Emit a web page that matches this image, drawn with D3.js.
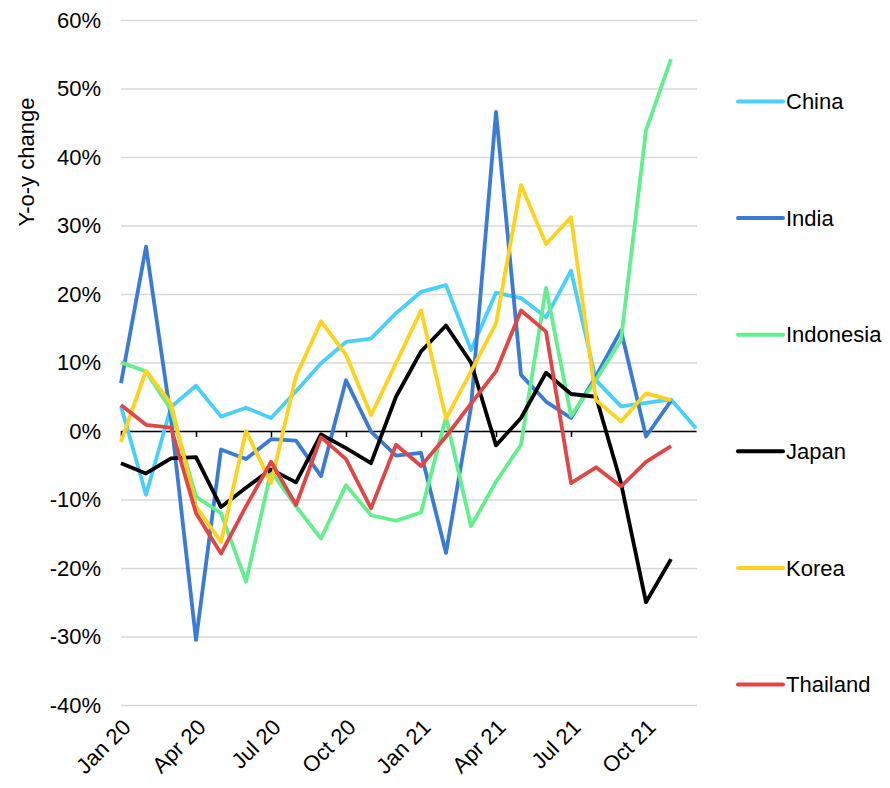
<!DOCTYPE html>
<html>
<head>
<meta charset="utf-8">
<script src="https://cdn.jsdelivr.net/npm/d3@7"></script>
<style>
  body { margin: 0; background: #fff; }
  text { font-family: "Liberation Sans", Arial, sans-serif; fill: #000; }
</style>
</head>
<body>
<svg id="chart" width="890" height="788"></svg>
<script>
// months Jan 20 .. Dec 21
var months = ["Jan 20","Feb 20","Mar 20","Apr 20","May 20","Jun 20","Jul 20","Aug 20","Sep 20","Oct 20","Nov 20","Dec 20",
              "Jan 21","Feb 21","Mar 21","Apr 21","May 21","Jun 21","Jul 21","Aug 21","Sep 21","Oct 21","Nov 21","Dec 21"];
var tickMonths = ["Jan 20","Apr 20","Jul 20","Oct 20","Jan 21","Apr 21","Jul 21","Oct 21"];
var yTicks = [-40,-30,-20,-10,0,10,20,30,40,50,60];

// y-o-y change, %
var china     = [3.6,-9.3,3.5,6.6,2.1,3.4,1.9,5.8,9.9,13.0,13.5,17.2,20.3,21.3,11.8,20.2,19.4,16.6,23.4,7.4,3.6,4.1,4.6,0.4];
var india     = [7.0,26.9,1.8,-30.5,-2.7,-4.1,-1.2,-1.4,-6.6,7.4,-0.1,-3.6,-3.2,-17.8,3.5,46.6,8.2,4.3,1.9,8.0,14.7,-0.8,4.4,null];
var indonesia = [10.0,8.7,3.1,-9.6,-12.0,-22.0,-5.9,-11.0,-15.7,-7.9,-12.3,-13.1,-11.9,2.0,-13.9,-7.4,-2.0,20.9,2.2,7.5,13.3,43.9,54.3,null];
var japan     = [-4.7,-6.2,-4.0,-3.8,-11.1,-8.3,-5.6,-7.5,-0.5,-2.5,-4.7,5.0,11.6,15.4,10.0,-2.1,1.9,8.5,5.4,5.0,-7.6,-25.0,-18.7,null];
var korea     = [-1.6,8.8,4.0,-11.0,-16.2,0.0,-7.6,8.0,16.0,11.1,2.3,9.9,17.6,1.8,8.7,15.7,35.9,27.3,31.2,4.5,1.4,5.5,4.5,null];
var thailand  = [3.8,0.9,0.5,-12.0,-17.9,-11.0,-4.5,-10.8,-0.9,-4.1,-11.3,-2.0,-5.1,-0.8,4.0,8.7,17.6,14.5,-7.6,-5.3,-8.1,-4.5,-2.2,null];

var names  = ["China","India","Indonesia","Japan","Korea","Thailand"];
var colors = ["#48d0fb","#3a7bd5","#63ef8e","#000000","#ffd21e","#e04646"];
var series = [china, india, indonesia, japan, korea, thailand];

var svg = d3.select("#chart");
var pLeft = 121, pRight = 696, pTop = 20, pBottom = 705;

var x = d3.scalePoint().domain(months).range([pLeft, pRight]);
var y = d3.scaleLinear().domain([-40, 60]).range([pBottom, pTop]);

// gridlines + y labels
var gy = svg.append("g")
    .attr("transform", "translate(" + pLeft + ",0)")
    .call(d3.axisLeft(y).tickValues(yTicks).tickSize(-(pRight - pLeft + 1)).tickPadding(20)
          .tickFormat(function(d){ return d + "%"; }));
gy.select(".domain").remove();
gy.selectAll(".tick line").attr("stroke", "#d9d9d9").attr("stroke-width", 1.5);
gy.selectAll(".tick text").style("font-size", "22px");

svg.append("text")
    .attr("transform", "translate(34,162) rotate(-90)")
    .attr("text-anchor", "middle")
    .style("font-size", "22px")
    .text("Y-o-y change");

// zero axis with ticks
var gx = svg.append("g")
    .attr("transform", "translate(0," + y(0) + ")")
    .call(d3.axisBottom(x).tickValues(tickMonths).tickSize(6).tickSizeOuter(0).tickFormat(""));
gx.select(".domain").attr("stroke", "#000").attr("stroke-width", 1.5);
gx.selectAll(".tick line").attr("stroke", "#000").attr("stroke-width", 1.5);

// month labels at the bottom
var gl = svg.append("g")
    .attr("transform", "translate(0," + (pBottom + 10) + ")")
    .call(d3.axisBottom(x).tickValues(tickMonths).tickSize(0));
gl.select(".domain").remove();
gl.selectAll(".tick text")
    .style("font-size", "22px")
    .attr("text-anchor", "end")
    .attr("dy", "0.35em")
    .attr("transform", "translate(3,6) rotate(-45)");

// lines
var line = d3.line()
    .defined(function(d){ return d != null; })
    .x(function(d, i){ return x(months[i]); })
    .y(function(d){ return y(d); });

series.forEach(function(s, k){
  svg.append("path")
      .datum(s)
      .attr("fill", "none")
      .attr("stroke", colors[k])
      .attr("stroke-width", 3.8)
      .attr("stroke-linejoin", "round")
      .attr("d", line);
});

// legend
var lg = svg.append("g").selectAll("g")
    .data(names)
    .enter().append("g")
    .attr("transform", function(d, i){ return "translate(738," + (101.5 + i * 116.6) + ")"; });
lg.append("line")
    .attr("x1", 0).attr("x2", 45)
    .attr("stroke", function(d, i){ return colors[i]; })
    .attr("stroke-width", 4)
    .attr("stroke-linecap", "round");
lg.append("text")
    .attr("x", 48).attr("dy", "0.35em")
    .style("font-size", "22px")
    .text(function(d){ return d; });
</script>
</body>
</html>
